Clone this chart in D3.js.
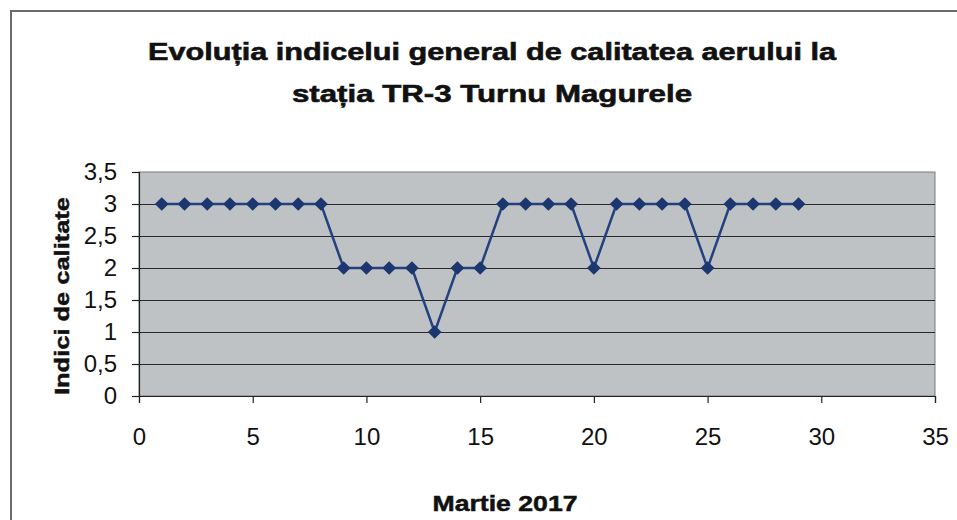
<!DOCTYPE html>
<html>
<head>
<meta charset="utf-8">
<script src="https://cdn.jsdelivr.net/npm/d3@7"></script>
<style>
  body { margin: 0; background: #fff; }
  svg { display: block; font-family: "Liberation Sans", Arial, sans-serif; }
</style>
</head>
<body>
<div id="chart"></div>
<script>
"use strict";

const titleLines = ["Evoluția indicelui general de calitatea aerului la", "stația TR-3 Turnu Magurele"];
const xTitle = "Martie 2017";
const yTitle = "Indici de calitate";
const days = d3.range(1, 30);
const indexValues = [3, 3, 3, 3, 3, 3, 3, 3, 2, 2, 2, 2, 1, 2, 2, 3, 3, 3, 3, 2, 3, 3, 3, 3, 2, 3, 3, 3, 3];
const xTicks = [0, 5, 10, 15, 20, 25, 30, 35];
const yTicks = [0, 0.5, 1, 1.5, 2, 2.5, 3, 3.5];

function _main() {
  const WIDTH = 957;
  const HEIGHT = 520;
  const plot = { left: 139, right: 935, top: 172, bottom: 396 };

  const svg = d3.select("#chart").append("svg").attr("width", WIDTH).attr("height", HEIGHT);

  // chart frame (only left and top edges survive in the scan)
  svg.append("path")
    .attr("d", `M11,${HEIGHT} L11,11 L${WIDTH},11`)
    .attr("fill", "none")
    .attr("stroke", "#6a6a6a")
    .attr("stroke-width", 2);

  const xScale = d3.scaleLinear().domain([0, 35]).range([plot.left, plot.right]);
  const yScale = d3.scaleLinear().domain([0, 3.5]).range([plot.bottom, plot.top]);

  // plot area
  svg.append("rect")
    .attr("x", plot.left)
    .attr("y", plot.top)
    .attr("width", plot.right - plot.left)
    .attr("height", plot.bottom - plot.top)
    .attr("fill", "#bfc2c5")
    .attr("stroke", "#7a7a7a")
    .attr("stroke-width", 1);

  // gridlines
  svg.append("g")
    .selectAll("line")
    .data(yTicks.filter((d) => d > 0 && d < 3.5))
    .enter()
    .append("line")
    .attr("x1", plot.left)
    .attr("x2", plot.right)
    .attr("y1", (d) => Math.round(yScale(d)) + 0.5)
    .attr("y2", (d) => Math.round(yScale(d)) + 0.5)
    .attr("stroke", "#2a2a2a")
    .attr("stroke-width", 1);

  // axes
  const xAxis = svg.append("g")
    .attr("transform", `translate(0, ${plot.bottom})`)
    .call(d3.axisBottom(xScale).tickValues(xTicks).tickSize(7).tickPadding(25).tickFormat(d3.format("d")));
  const yAxis = svg.append("g")
    .attr("transform", `translate(${plot.left}, 0)`)
    .call(d3.axisLeft(yScale).tickValues(yTicks).tickSize(7).tickPadding(15)
      .tickFormat((d) => String(d).replace(".", ",")));

  [xAxis, yAxis].forEach((axis) => {
    axis.select(".domain").attr("stroke", "#222").attr("stroke-width", 1.2);
    axis.selectAll(".tick line").attr("stroke", "#222").attr("stroke-width", 1.2);
    axis.selectAll(".tick text")
      .attr("fill", "#111")
      .style("font-size", "24px")
      .style("font-family", "'Liberation Sans', Arial, sans-serif");
  });

  // data line + diamond markers
  const data = days.map((d, i) => ({ x: d, y: indexValues[i] }));
  const lineGenerator = d3.line().x((d) => xScale(d.x)).y((d) => yScale(d.y));
  svg.append("path")
    .datum(data)
    .attr("d", lineGenerator)
    .attr("fill", "none")
    .attr("stroke", "#23417e")
    .attr("stroke-width", 2.5);

  svg.append("g")
    .selectAll("path")
    .data(data)
    .enter()
    .append("path")
    .attr("transform", (d) => `translate(${xScale(d.x)}, ${yScale(d.y)})`)
    .attr("d", d3.symbol(d3.symbolDiamond2, 120))
    .attr("fill", "#1c3670");

  // titles (the scanned bold text is stretched horizontally and heavier)
  const titleWidths = [688, 400];
  svg.append("g")
    .selectAll("text")
    .data(titleLines)
    .enter()
    .append("text")
    .attr("x", 492)
    .attr("y", (d, i) => 60 + i * 42)
    .attr("text-anchor", "middle")
    .attr("font-weight", "bold")
    .attr("font-size", 24)
    .attr("fill", "#111")
    .attr("stroke", "#111")
    .attr("stroke-width", 0.6)
    .attr("textLength", (d, i) => titleWidths[i])
    .attr("lengthAdjust", "spacingAndGlyphs")
    .text((d) => d);

  svg.append("text")
    .attr("x", 505)
    .attr("y", 511)
    .attr("text-anchor", "middle")
    .attr("font-weight", "bold")
    .attr("font-size", 22)
    .attr("fill", "#111")
    .attr("stroke", "#111")
    .attr("stroke-width", 0.5)
    .attr("textLength", 145)
    .attr("lengthAdjust", "spacingAndGlyphs")
    .text(xTitle);

  svg.append("text")
    .attr("transform", "translate(69, 296) rotate(-90)")
    .attr("text-anchor", "middle")
    .attr("font-weight", "bold")
    .attr("font-size", 21)
    .attr("fill", "#111")
    .attr("stroke", "#111")
    .attr("stroke-width", 0.5)
    .attr("textLength", 198)
    .attr("lengthAdjust", "spacingAndGlyphs")
    .text(yTitle);
}

_main();
</script>
</body>
</html>
